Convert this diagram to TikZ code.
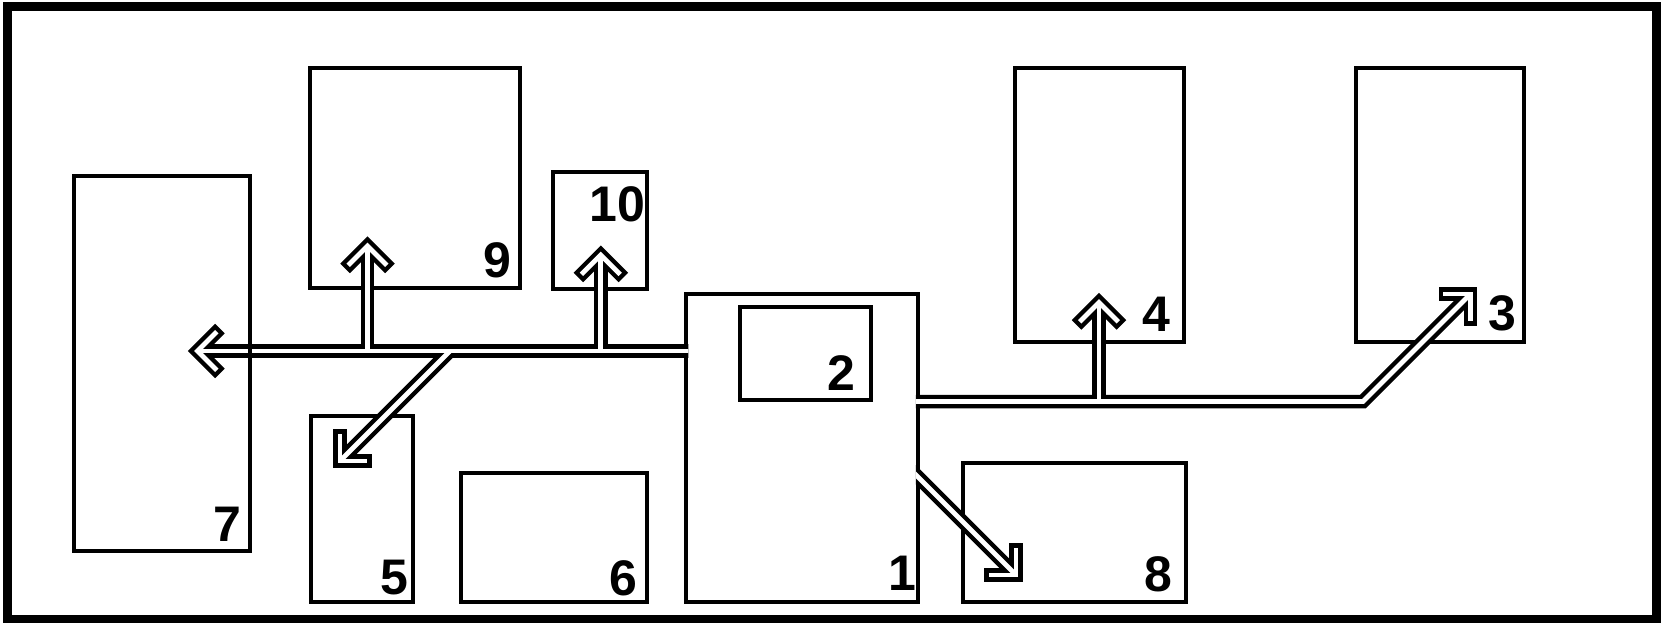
\documentclass[tikz,border=0pt]{standalone}
\usepackage{fontspec}
\setmainfont{Liberation Sans}
\usetikzlibrary{calc}
\tikzset{
  box/.style={draw, line width=4.5pt, inner sep=0pt, outer sep=0pt},
  lbl/.style={font=\fontsize{50}{50}\selectfont\bfseries, inner sep=0pt},
  pipeb/.style={draw=black, line width=13.5pt, line cap=butt, line join=miter},
  pipew/.style={draw=white, line width=4.7pt, line cap=butt, line join=miter},
  headb/.style={draw=black, line width=13.5pt, line cap=rect, line join=miter},
  headw/.style={draw=white, line width=4.7pt, line cap=rect, line join=miter},
}
\newcommand\leftnet[1]{%
  \draw[pipe#1] (sL) -- (tL);
  \draw[pipe#1] (t9 |- tL) -- (t9);
  \draw[pipe#1] (t10 |- tL) -- (t10);
  \draw[pipe#1] (j5) -- (t5);
  \draw[head#1] (tL) ++(17.7,-17.7) -- (tL) -- ++(17.7,17.7);
  \draw[head#1] (t9) ++(-17.7,17.7) -- (t9) -- ++(17.7,17.7);
  \draw[head#1] (t10) ++(-17.7,17.7) -- (t10) -- ++(17.7,17.7);
  \draw[head#1] (t5) ++(0,-25) -- (t5) -- ++(25,0);
}
\newcommand\rightnet[1]{%
  \draw[pipe#1] (sR) -- (bR) -- (t3);
  \draw[pipe#1] (t4 |- bR) -- (t4);
  \draw[pipe#1] (s8) -- (t8);
  \draw[head#1] (t3) ++(-25,0) -- (t3) -- ++(0,25);
  \draw[head#1] (t4) ++(-17.7,17.7) -- (t4) -- ++(17.7,17.7);
  \draw[head#1] (t8) ++(-25,0) -- (t8) -- ++(0,-25);
}
\begin{document}
\begin{tikzpicture}[x=1pt,y=-1pt]
\useasboundingbox (0,0) rectangle (1662,623);
\fill[white] (0,0) rectangle (1662,623);
\draw[line width=9pt] (7,7) rectangle (1656,619);
% boxes
\node[box, minimum width=210pt, minimum height=220pt] (b9) at (415,178) {};
\node[box, minimum width=94pt, minimum height=117pt] (b10) at (600,230.5) {};
\node[box, minimum width=102pt, minimum height=186pt] (b5) at (362,509) {};
\node[box, minimum width=186pt, minimum height=129pt] (b6) at (554,537.5) {};
\node[box, minimum width=232pt, minimum height=308pt] (b1) at (802,448) {};
\node[box, minimum width=131pt, minimum height=93pt] (b2) at (805.5,353.5) {};
\node[box, minimum width=169pt, minimum height=274pt] (b4) at (1099.5,205) {};
\node[box, minimum width=168pt, minimum height=274pt] (b3) at (1440,205) {};
\node[box, minimum width=223pt, minimum height=139pt] (b8) at (1074.5,532.5) {};
% connector points
\coordinate (tL) at (197.5,351);
\coordinate (t9) at (367.5,246);
\coordinate (t10) at (600.8,255);
\coordinate (t5) at (340,461);
\coordinate (j5) at (450,351);
\coordinate (sL) at ($(b1.west |- tL)+(14,0)$);
\coordinate (bR) at (1363,401.5);
\coordinate (t3) at (1470.5,294);
\coordinate (t4) at (1099,302.5);
\coordinate (t8) at (1016,575);
\coordinate (sR) at ($(b1.east |- bR)+(-14,0)$);
\coordinate (s8) at ($(t8)+(-111,-111)$);
% hollow connectors
\begin{scope}
  \clip (0,0) rectangle (688.25,623);
  \leftnet{b}
  \leftnet{w}
\end{scope}
\begin{scope}
  \clip (915.75,0) rectangle (1662,623);
  \rightnet{b}
  \rightnet{w}
\end{scope}
% box 7 drawn over the connector
\node[box, minimum width=176pt, minimum height=375pt] (b7) at (162,363.5) {};
% labels
\node[lbl] (l1) at (902,573) {1};
\node[lbl] (l2) at (841,373) {2};
\node[lbl] (l3) at (1502,313) {3};
\node[lbl] (l4) at (1156,314) {4};
\node[lbl] (l5) at (394,578) {5};
\node[lbl] (l6) at (623,578) {6};
\node[lbl] (l7) at (227,524) {7};
\node[lbl] (l8) at (1158.5,574.5) {8};
\node[lbl] (l9) at (497.5,260) {9};
\node[lbl] (l10) at (617.5,204) {10};
\end{tikzpicture}
\end{document}
